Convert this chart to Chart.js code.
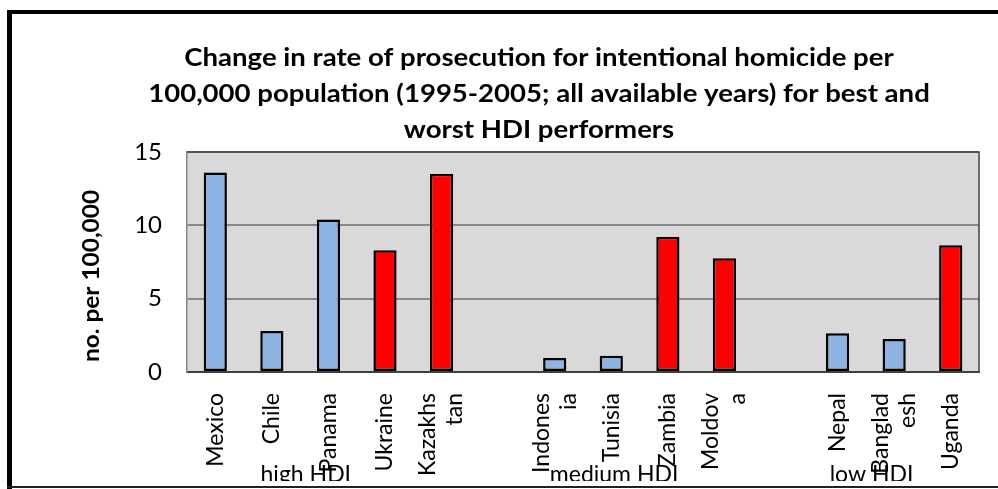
<!DOCTYPE html>
<html>
<head>
<meta charset="utf-8">
<script src="https://cdn.jsdelivr.net/npm/chart.js@4.4.1/dist/chart.umd.min.js"></script>
<style>
  html, body { margin: 0; padding: 0; background: #fff; }
  #wrap { position: relative; width: 998px; height: 489px; }
</style>
</head>
<body>
<div id="wrap"><canvas id="chart"></canvas></div>
<script>
// data
const categories = [['Mexico'], ['Chile'], ['Panama'], ['Ukraine'], ['Kazakhs', 'tan'], [''],
    ['Indones', 'ia'], ['Tunisia'], ['Zambia'], ['Moldov', 'a'], [''],
    ['Nepal'], ['Banglad', 'esh'], ['Uganda']];
const values = [13.6, 2.8, 10.4, 8.3, 13.5, null, 0.95, 1.1, 9.2, 7.75, null, 2.65, 2.25, 8.65];
const performance = ['best', 'best', 'best', 'worst', 'worst', null, 'best', 'best', 'worst', 'worst', null, 'best', 'best', 'worst'];
const groupLabels = ['high HDI', 'medium HDI', 'low HDI'];
const groupCenters = [1.6, 7.05, 11.6]; // in category-index units
const yMin = 0, yMax = 15, yStep = 5;
const titleLines = [
    'Change in rate of prosecution for intentional homicide per',
    '100,000 population (1995-2005; all available years) for best and',
    'worst HDI performers'
];
const yTitle = 'no. per 100,000';

const colorFor = { best: '#8eb4e3', worst: '#ff0000' };
const FONT = 'Lato, "Open Sans", sans-serif';
// Lato is narrower than the Calibri of the original, so wide text gets stretched a bit
const STRETCH = 1.148;

const overlay = {
    id: 'overlay',
    beforeDraw(chart) {
        const { ctx, chartArea: a } = chart;
        ctx.save();
        ctx.fillStyle = '#d9d9d9';
        ctx.fillRect(a.left, a.top, a.right - a.left, a.bottom - a.top);
        ctx.restore();
    },
    beforeDatasetsDraw(chart) {
        const { ctx, chartArea: a } = chart;
        ctx.save();
        ctx.strokeStyle = '#404040';
        ctx.lineWidth = 1.5;
        ctx.beginPath();
        ctx.moveTo(a.left, a.top);
        ctx.lineTo(a.right, a.top);
        ctx.lineTo(a.right, a.bottom);
        ctx.stroke();
        ctx.restore();
    },
    afterDraw(chart) {
        const { ctx } = chart;
        const xs = chart.scales.x;
        ctx.save();

        // outer frame (picture is cropped on the right)
        ctx.fillStyle = '#000';
        ctx.fillRect(7, 10, 991, 4);
        ctx.fillRect(7, 10, 5, 479);
        ctx.fillStyle = '#222';
        ctx.fillRect(7, 486, 991, 2);

        // title
        ctx.fillStyle = '#000';
        ctx.font = 'bold 24px ' + FONT;
        ctx.textAlign = 'center';
        ctx.textBaseline = 'alphabetic';
        titleLines.forEach((t, i) => {
            ctx.save();
            ctx.translate(539, 66 + i * 36);
            ctx.scale(STRETCH, 1);
            ctx.fillText(t, 0, 0);
            ctx.restore();
        });

        // y axis title
        ctx.save();
        ctx.translate(92, 276);
        ctx.rotate(-Math.PI / 2);
        ctx.scale(1.11, 1);
        ctx.font = 'bold 22px ' + FONT;
        ctx.textBaseline = 'middle';
        ctx.fillText(yTitle, 0, 0);
        ctx.restore();

        // category labels, rotated, block-centred on the tick
        ctx.font = '23px ' + FONT;
        const lh = 27;
        categories.forEach((lines, i) => {
            const x = xs.getPixelForValue(i);
            ctx.save();
            ctx.translate(x, 393);
            ctx.rotate(-Math.PI / 2);
            ctx.textAlign = 'right';
            ctx.textBaseline = 'middle';
            lines.forEach((s, j) => ctx.fillText(s, 0, (j - (lines.length - 1) / 2) * lh));
            ctx.restore();
        });

        // group labels, clipped at the bottom like the original
        ctx.save();
        ctx.beginPath();
        ctx.rect(0, 0, 998, 481);
        ctx.clip();
        ctx.textAlign = 'center';
        ctx.textBaseline = 'alphabetic';
        groupLabels.forEach((g, i) => ctx.fillText(g, xs.getPixelForValue(groupCenters[i]), 482));
        ctx.restore();

        ctx.restore();
    }
};

new Chart(document.getElementById('chart'), {
    type: 'bar',
    data: {
        labels: categories,
        datasets: [{
            data: values,
            backgroundColor: performance.map(p => colorFor[p] || 'transparent'),
            borderColor: '#000',
            borderWidth: 2.5,
            borderSkipped: false,
            barPercentage: 0.41,
            categoryPercentage: 1
        }]
    },
    options: {
        responsive: true,
        maintainAspectRatio: false,
        animation: false,
        layout: { padding: { top: 152, right: 19, left: 0, bottom: 0 } },
        plugins: {
            legend: { display: false },
            title: { display: false },
            tooltip: { enabled: false }
        },
        scales: {
            x: {
                ticks: { display: false },
                grid: { display: false, drawTicks: false },
                border: { display: true, color: '#404040', width: 2 },
                afterFit: s => { s.height = 117; }
            },
            y: {
                min: yMin,
                max: yMax,
                ticks: {
                    stepSize: yStep,
                    padding: 25,
                    color: '#000',
                    font: { family: FONT, size: 24 }
                },
                grid: { color: '#878787', lineWidth: 2, drawTicks: false },
                border: { display: true, color: '#878787', width: 1.5 },
                afterFit: s => { s.width = 187; }
            }
        }
    },
    plugins: [overlay]
});
</script>
</body>
</html>
